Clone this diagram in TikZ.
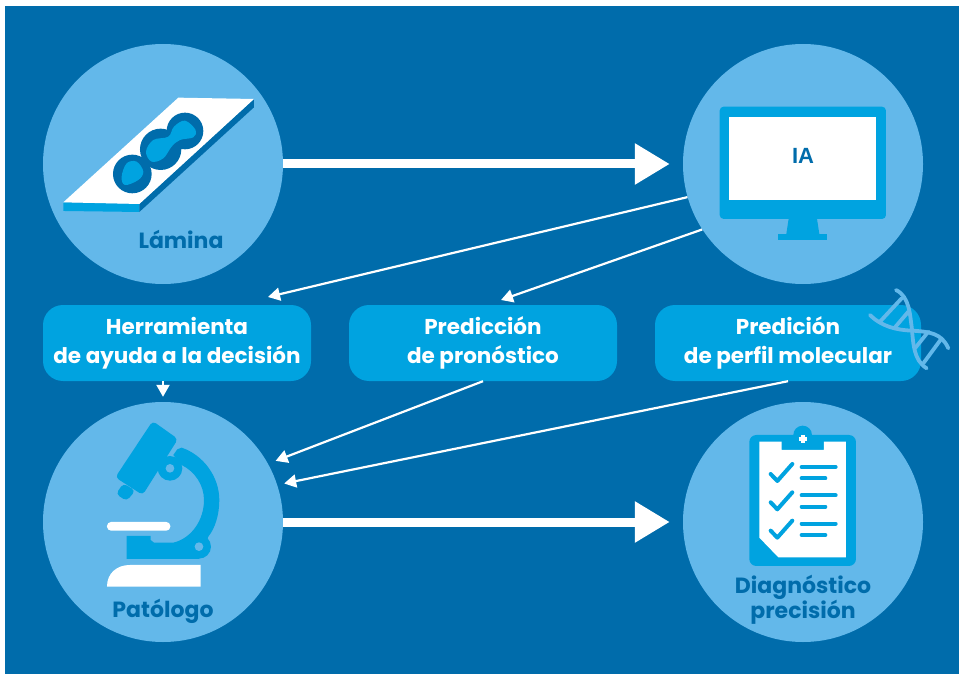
\documentclass[tikz,border=0pt]{standalone}
\usepackage{fontspec}
\setmainfont{Poppins}
\newfontfamily\arialfont{Liberation Sans}
\usetikzlibrary{arrows.meta}
\definecolor{fondo}{HTML}{006CAB}
\definecolor{claro}{HTML}{63B8EA}
\definecolor{medio}{HTML}{00A3E0}
\tikzset{
    etapa/.style={circle, fill=claro, minimum size=240pt, inner sep=0pt},
    caja/.style={rectangle, rounded corners=20pt, fill=medio, text=white, minimum height=76pt, inner sep=0pt, align=center, font=\fontsize{21.5}{29}\selectfont\bfseries},
    rotulo/.style={text=fondo, inner sep=0pt, align=center, font=\fontsize{22}{25}\selectfont\bfseries},
    flecha/.style={draw=white, line width=9pt, shorten >=13pt, -{Triangle[length=35pt,width=39pt]}},
    flechita/.style={draw=white, line width=2.2pt, -{Triangle[length=12pt,width=13pt]}},
    helice/.style={draw=claro, line width=3.8pt, line cap=round},
    marca/.style={draw=medio, line width=4pt, line cap=round, line join=round}
}
\begin{document}
\begin{tikzpicture}[x=1pt,y=-1pt]
        \useasboundingbox (0,0) rectangle (959,674);
        \fill[fondo] (5,6) rectangle (959,674);

        \node[etapa](lamina)     at (163,164) {};
        \node[etapa](ia)         at (803,164) {};
        \node[etapa](patologo)   at (163,522) {};
        \node[etapa](diagnostico) at (803,522) {};
        \node[caja, minimum width=268pt](herramienta) at (177,343) {Herramienta\\de ayuda a la decisión};
        \node[caja, minimum width=268pt](pronostico)  at (483,343) {Predicción\\de pronóstico};
        \node[caja, minimum width=266pt](perfil)      at (788,343) {Predición\\de perfil molecular};
        \coordinate (puntaherramienta) at (268,297);
        \coordinate (puntapronostico)  at (501,300);

        \path
            (lamina.east)   edge [flecha] (ia.west |- lamina.east)
            (patologo.east) edge [flecha] (diagnostico.west |- patologo.east)
            (ia.196) edge [flechita] (puntaherramienta)
            (ia.213) edge [flechita] (puntapronostico)
            (patologo.north |- herramienta.south) edge [flechita, shorten >=5pt] (patologo.north)
            (pronostico.south) edge [flechita, shorten >=8pt] (patologo.29)
            (perfil.south) edge [flechita, shorten >=7pt] (patologo.18)
            ;

        \begin{scope}[shift={(30,30)},x=0.3333pt,y=-0.3333pt]
            \fill[medio] (100,517) -- (328,522) -- (328,546) -- (100,543) -- cycle;
            \fill[fondo] (328,522) -- (672,207) -- (672,232) -- (328,546) -- cycle;
            \fill[white] (445,203) -- (672,207) -- (328,522) -- (100,517) -- cycle;
            \fill[fondo] (307,432) circle[radius=58];
            \fill[fondo] (392,358) circle[radius=62];
            \fill[fondo] (465,303) circle[radius=55];
            \draw[fondo, line width=20pt] (392,358) -- (465,303);
            \fill[medio] plot[smooth cycle, tension=0.6] coordinates {(275,440) (290,400) (320,395) (340,425) (325,450) (285,465)};
            \fill[medio] plot[smooth cycle, tension=0.6] coordinates {(348,365) (370,330) (415,320) (432,290) (465,272) (497,300) (490,322) (450,330) (425,350) (400,385) (365,395)};
        \end{scope}
        \node[rotulo](rotulolamina) at (181,239) {Lámina};

        \begin{scope}[shift={(670,40)},x=0.3333pt,y=-0.3333pt]
            \fill[medio, rounded corners=4pt] (149,200) rectangle (648,537);
            \fill[white] (178,231) rectangle (619,481);
            \fill[medio] (357,530) -- (440,530) -- (448,582) -- (349,582) -- cycle;
            \fill[medio] (324,582) rectangle (471,600);
        \end{scope}
        \node[text=fondo, inner sep=0pt, font=\fontsize{22}{22}\selectfont\arialfont\bfseries](rotuloia) at (803,156) {IA};

        \begin{scope}[shift={(30,390)},x=0.3333pt,y=-0.3333pt]
            \fill[medio, rounded corners=4pt] (368,93) -- (444,147) -- (338,315) -- (256,262) -- cycle;
            \fill[medio, rounded corners=4pt] (280,280) -- (316,302) -- (290,333) -- (258,312) -- cycle;
            \fill[medio] (455,173) .. controls (520,195) and (568,260) .. (568,330) .. controls (568,375) and (555,415) .. (535,440) -- (507,507) -- (290,507) -- (290,438) -- (362,438) -- (362,450) -- (372,458) -- (430,458) .. controls (485,445) and (522,390) .. (522,330) .. controls (522,285) and (495,245) .. (455,225) -- (430,195) -- (442,178) -- cycle;
            \fill[medio] (420,235) circle[radius=37];
            \fill[claro] (420,235) circle[radius=13];
            \fill[medio] (507,470) circle[radius=36];
            \fill[claro] (507,470) circle[radius=13];
            \fill[white, rounded corners=4pt] (231,396) rectangle (421,422);
            \fill[white] (231,590) .. controls (231,550) and (260,525) .. (300,525) -- (512,525) -- (512,590) -- cycle;
        \end{scope}
        \node[rotulo](rotulopatologo) at (163,611) {Patólogo};

        \begin{scope}[shift={(670,390)},x=0.3333pt,y=-0.3333pt]
            \fill[medio] (398,135) circle[radius=28];
            \fill[medio, rounded corners=7pt] (238,135) rectangle (558,528);
            \fill[white] (268,155) -- (335,155) -- (335,180) -- (462,180) -- (462,155) -- (528,155) -- (528,502) -- (325,502) -- (268,443) -- cycle;
            \draw[white, line width=4pt] (386,147) -- (410,147) (398,135) -- (398,159);
            \foreach \dy in {0,85,170} {
                \draw[marca] (302,{252+\dy}) -- (322,{273+\dy}) -- (367,{222+\dy});
                \draw[marca] (395,{231+\dy}) -- (497,{231+\dy});
                \draw[marca] (395,{265+\dy}) -- (466,{265+\dy});
            }
        \end{scope}
        \node[rotulo](rotulodiagnostico) at (803,600) {Diagnóstico\\precisión};

        \begin{scope}[shift={(860,280)},x=0.3333pt,y=-0.3333pt]
            \draw[helice] (108,30) .. controls (150,50) and (150,110) .. (155,140) .. controls (160,190) and (160,240) .. (200,265);
            \draw[helice] (30,105) .. controls (65,140) and (110,150) .. (155,152) .. controls (210,155) and (245,160) .. (265,205);
            \draw[helice] (125,55) -- (60,125);
            \draw[helice] (145,95) -- (105,142);
            \draw[helice] (205,155) -- (165,205);
            \draw[helice] (245,175) -- (190,250);
        \end{scope}
    \end{tikzpicture}
\end{document}
